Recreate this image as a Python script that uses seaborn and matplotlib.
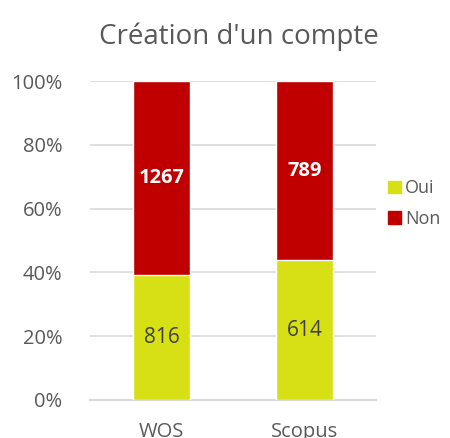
import matplotlib

matplotlib.use("Agg")

import matplotlib.pyplot as plt
import pandas as pd
import seaborn as sns
from matplotlib.ticker import PercentFormatter

categories = ["WOS", "Scopus"]
oui_counts = [816, 614]
non_counts = [1267, 789]
series_labels = ["Oui", "Non"]

OUI_COLOR = "#D6E014"
NON_COLOR = "#C00000"
TEXT_COLOR = "#595959"
GRID_COLOR = "#D9D9D9"

sns.set_theme(style="white")
plt.rcParams["font.family"] = ["Open Sans", "DejaVu Sans"]

totals = [o + n for o, n in zip(oui_counts, non_counts)]
df = pd.DataFrame(
    {
        "source": categories,
        "oui_share": [o / t * 100 for o, t in zip(oui_counts, totals)],
        "total": [100.0 for _ in totals],
    }
)

fig = plt.figure(figsize=(4.5, 4.38), dpi=100)
ax = fig.add_axes([0.2, 0.0868, 0.6356, 0.728])

# stacked look: full bar in red, Oui share drawn over it
sns.barplot(data=df, x="source", y="total", color=NON_COLOR, width=0.4,
            saturation=1, ax=ax, zorder=2)
sns.barplot(data=df, x="source", y="oui_share", color=OUI_COLOR, width=0.4,
            saturation=1, ax=ax, zorder=3)

for i, row in df.iterrows():
    ax.text(i, row["oui_share"] / 2, str(oui_counts[i]), ha="center",
            va="center", fontsize=15, color="#404040", zorder=4)
    ax.text(i, (row["oui_share"] + 100) / 2, str(non_counts[i]), ha="center",
            va="center", fontsize=14.5, color="white", fontweight="bold", zorder=4)

ax.set_xlim(-0.5, 1.5)
ax.set_ylim(0, 100)
ax.set_yticks([0, 20, 40, 60, 80, 100])
ax.yaxis.set_major_formatter(PercentFormatter(decimals=0))
ax.yaxis.grid(True, color=GRID_COLOR, linewidth=1.2, zorder=0)
ax.set_axisbelow(True)
sns.despine(ax=ax, left=True)
ax.spines["bottom"].set_color(GRID_COLOR)
ax.spines["bottom"].set_linewidth(1.5)
ax.tick_params(axis="both", length=0, labelsize=14.5, colors=TEXT_COLOR)
ax.tick_params(axis="y", pad=20)
ax.tick_params(axis="x", pad=16)
ax.set_xlabel("")
ax.set_ylabel("")

ax.set_title("Création d'un compte", fontsize=20, color=TEXT_COLOR, pad=27,
             x=0.52)

handles = [
    plt.Rectangle((0, 0), 1, 1, color=OUI_COLOR),
    plt.Rectangle((0, 0), 1, 1, color=NON_COLOR),
]
fig.legend(handles, series_labels, loc="center left",
           bbox_to_anchor=(0.862, 0.535), frameon=False, fontsize=13,
           labelcolor=TEXT_COLOR, handlelength=0.7, handleheight=0.7,
           handletextpad=0.25, labelspacing=0.7, borderaxespad=0,
           borderpad=0)

fig.savefig("out.png", dpi=100)
